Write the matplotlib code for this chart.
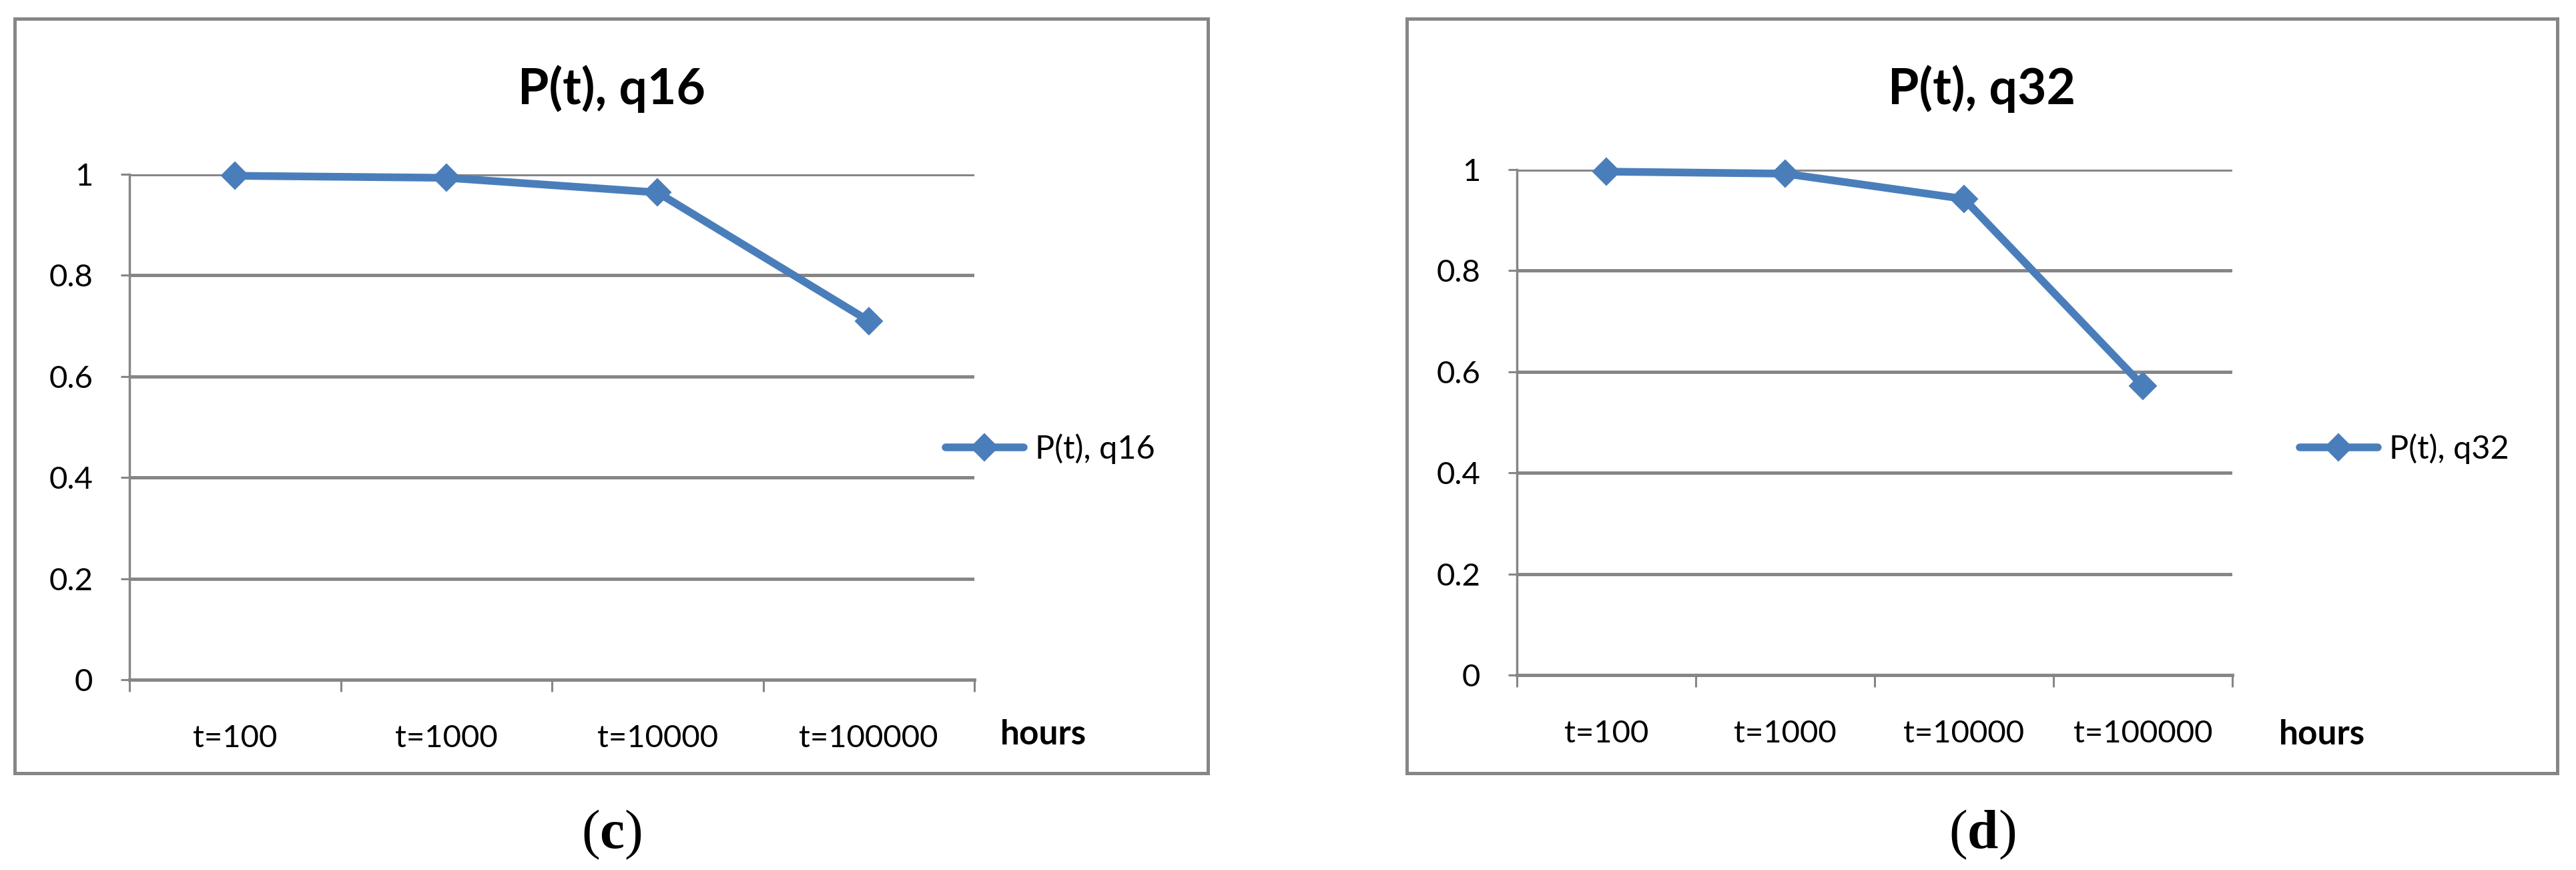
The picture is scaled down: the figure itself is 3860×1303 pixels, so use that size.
import matplotlib
matplotlib.use('Agg')
import matplotlib.pyplot as plt
from matplotlib.patches import Rectangle

# data
categories = ['t=100', 't=1000', 't=10000', 't=100000']
q16 = [0.997, 0.993, 0.964, 0.710]
q32 = [0.996, 0.992, 0.942, 0.572]
yticks = [0, 0.2, 0.4, 0.6, 0.8, 1]
ytick_labels = ['0', '0.2', '0.4', '0.6', '0.8', '1']
series_names = ['P(t), q16', 'P(t), q32']
panel_tags = ['c', 'd']
xunit = 'hours'

plt.rcParams['font.family'] = ['Lato', 'DejaVu Sans']
plt.rcParams['mathtext.fontset'] = 'custom'
plt.rcParams['mathtext.bf'] = 'Liberation Serif:bold'
plt.rcParams['mathtext.rm'] = 'Liberation Serif'

GRAY = '#868686'
BLUE = '#4A7EBB'
W, H = 3860, 1303

fig = plt.figure(figsize=(W / 100, H / 100), dpi=100)

# pixel layout of each panel: frame box, axes box, legend anchor, "hours" x
panels = [
    dict(frame=(22, 28, 1810, 1158), axes=(194, 261, 1460, 1018), leg=(1417, 672), unit_x=1499),
    dict(frame=(2108, 28, 3832, 1158), axes=(2273, 254, 3345, 1011), leg=(3446, 672), unit_x=3415),
]

def fx(x):
    return x / W

def fy(y):
    return 1 - y / H

for i, (vals, name, tag) in enumerate(zip([q16, q32], series_names, panel_tags)):
    p = panels[i]
    x0, y0, x1, y1 = p['frame']
    fig.patches.append(Rectangle((fx(x0), fy(y1)), fx(x1) - fx(x0), fy(y0) - fy(y1),
                                 transform=fig.transFigure, fill=False,
                                 edgecolor=GRAY, lw=3.6, zorder=0))
    ax0, ay0, ax1, ay1 = p['axes']
    ax = fig.add_axes([fx(ax0), fy(ay1), fx(ax1) - fx(ax0), fy(ay0) - fy(ay1)])
    xs = range(len(categories))
    ax.plot(xs, vals, color=BLUE, lw=8.3, marker='D', ms=20, mew=1.5,
            mec=BLUE, mfc=BLUE, solid_capstyle='round', solid_joinstyle='round',
            clip_on=False, label=name, zorder=5)
    ax.set_xlim(-0.5, len(categories) - 0.5)
    ax.set_ylim(0, 1)

    ax.set_yticks(yticks)
    ax.set_yticklabels(ytick_labels)
    ax.tick_params(axis='y', length=9.4, width=2.2, color=GRAY, pad=30, labelsize=34)
    ax.set_xticks(list(xs))
    ax.set_xticklabels(categories)
    ax.set_xticks([k - 0.5 for k in range(len(categories) + 1)], minor=True)
    ax.tick_params(axis='x', which='major', length=0, pad=48, labelsize=34)
    ax.tick_params(axis='x', which='minor', length=13, width=2.2, color=GRAY)

    ax.yaxis.grid(True, color=GRAY, lw=3.6)
    ax.set_axisbelow(True)
    for s in ['top', 'right']:
        ax.spines[s].set_visible(False)
    ax.spines['left'].set_color(GRAY)
    ax.spines['left'].set_linewidth(2.5)
    ax.spines['bottom'].set_color(GRAY)
    ax.spines['bottom'].set_linewidth(3.6)

    fig.text(fx((x0 + x1) / 2), fy(133), name, ha='center', va='center',
             fontsize=54, fontweight='bold')
    fig.text(fx(p['unit_x']), fy(1115), xunit, ha='left', va='baseline',
             fontsize=37, fontweight='bold')

    lx, ly = p['leg']
    ax.legend(loc='center left', bbox_to_anchor=(fx(lx), fy(ly)),
              bbox_transform=fig.transFigure, frameon=False, fontsize=35,
              handlelength=2.4, handletextpad=0.35, borderpad=0, borderaxespad=0,
              numpoints=1)

    fig.text(fx((x0 + x1) / 2), fy(1250), r'$\mathrm{(}\mathbf{%s}\mathrm{)}$' % tag,
             ha='center', va='center', fontsize=60)

fig.savefig('out.png', dpi=100)
